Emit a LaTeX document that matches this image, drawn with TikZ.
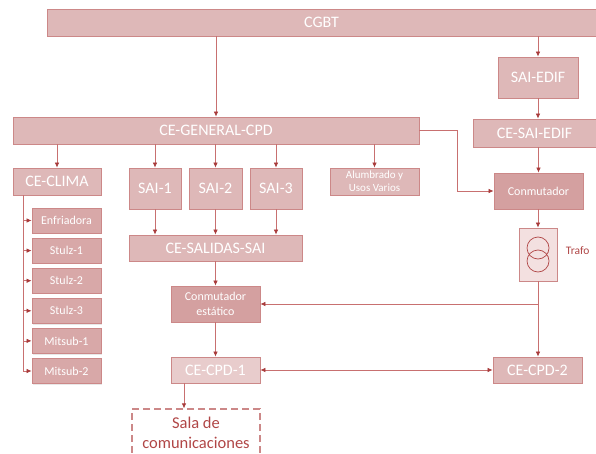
\documentclass[tikz,border=0pt]{standalone}
\usepackage{fontspec}
\setmainfont{Carlito}
\usetikzlibrary{arrows.meta,shadows}
\definecolor{boxred}{RGB}{222,184,184}
\definecolor{boxdark}{RGB}{212,160,160}
\definecolor{boxmid}{RGB}{216,168,168}
\definecolor{boxlight}{RGB}{232,204,204}
\definecolor{trafofill}{RGB}{243,224,224}
\definecolor{edgered}{RGB}{204,136,136}
\definecolor{wirered}{RGB}{200,112,112}
\definecolor{tipred}{RGB}{168,58,58}
\definecolor{salared}{RGB}{176,70,70}

\begin{document}
\begin{tikzpicture}[x=1pt, y=-1pt, font=\fontsize{16}{19}\selectfont,
  box/.style={draw=edgered, line width=0.8pt, fill=boxred, text=white, inner sep=1pt, align=center,
              drop shadow={shadow xshift=1.2pt, shadow yshift=-1.2pt, opacity=0.18}},
  wh/.style 2 args={minimum width=#1pt, minimum height=#2pt},
  dark/.style={fill=boxdark},
  small/.style={font=\fontsize{12}{15}\selectfont},
  wire/.style={draw=wirered, line width=0.7pt},
  arr/.style={wire, -{Latex[length=5pt,width=4.5pt,color=tipred]}},
  dbl/.style={wire, {Latex[length=5pt,width=4.5pt,color=tipred]}-{Latex[length=5pt,width=4.5pt,color=tipred]}}]
  \useasboundingbox (0,0) rectangle (596,454);

  % main boards
  \node[box, wh={549}{27}] (cgbt) at (321.5,22.5) {CGBT};
  \node[box, wh={406}{27}] (gen) at (216,130.5) {CE-GENERAL-CPD};

  % building UPS branch
  \node[box, wh={80}{41}] (saiedif) at (538,77.5) {SAI-EDIF};
  \node[box, wh={123}{28}] (cesaiedif) at (534.5,133) {CE-SAI-EDIF};
  \node[box, dark, small, wh={89}{36}] (conm) at (538.5,191) {Conmutador};
  \node[box, fill=trafofill, wh={38}{53}] (trafo) at (538,254.5) {};
  \draw[draw=salared, line width=0.7pt] (trafo.center) ++(0,-6.5) circle [radius=11pt]
        (trafo.center) ++(0,6.5) circle [radius=11pt];
  \node[text=salared, font=\fontsize{11.5}{14}\selectfont, anchor=west] (trafolbl)
        at ([xshift=5pt,yshift=4pt]trafo.east) {Trafo};

  % CPD side
  \node[box, wh={88}{27}] (clima) at (57,181.5) {CE-CLIMA};
  \foreach \i/\x/\w in {1/155/52,2/215.5/53,3/276/52}{
    \node[box, wh={\w}{41}] (sai\i) at (\x,188.5) {SAI-\i};
  }
  \node[box, font=\fontsize{11}{13}\selectfont, wh={89}{27}] (alum) at (374.5,181.5) {Alumbrado y\\Usos Varios};
  \node[box, wh={173}{26}] (salidas) at (215.5,248) {CE-SALIDAS-SAI};
  \node[box, dark, small, wh={89}{36}] (estat) at (215.5,304) {Conmutador\\estático};
  \node[box, fill=boxlight, wh={89}{26}] (cpd1) at (215.5,370) {CE-CPD-1};
  \node[box, wh={89}{26}] (cpd2) at (537.5,370) {CE-CPD-2};
  \node[draw=edgered, line width=1.2pt, dash pattern=on 7pt off 4pt, text=salared,
        font=\fontsize{16.5}{20}\selectfont, align=center, wh={128}{48}] (sala) at (196,433)
        {Sala de\\comunicaciones};

  % climate loads
  \foreach \i/\t in {1/Enfriadora,2/Stulz-1,3/Stulz-2,4/Stulz-3,5/Mitsub-1,6/Mitsub-2}{
    \node[box, fill=boxmid, small, wh={69}{25}] (cl\i) at (66.5,{190.4+30.1*\i}) {\t};
  }

  % connections
  \draw[arr] (cgbt.south -| gen.north) -- (gen.north);
  \draw[arr] (cgbt.south -| saiedif.north) -- (saiedif.north);
  \draw[arr] (saiedif.south) -- (saiedif.south |- cesaiedif.north);
  \draw[arr] (conm.north |- cesaiedif.south) -- (conm.north);
  \draw[arr] (conm.south -| trafo.north) -- (trafo.north);
  \draw[arr] (trafo.south) -- (trafo.south |- cpd2.north);
  \draw[arr] (trafo.south |- estat.east) -- (estat.east);
  \draw[arr] (gen.east) -- ++(38,0) |- (conm.west);
  \draw[arr] (gen.south -| clima.north) -- (clima.north);
  \draw[arr] (gen.south -| alum.north) -- (alum.north);
  \foreach \i in {1,2,3}{
    \draw[arr] (gen.south -| sai\i.north) -- (sai\i.north);
    \draw[arr] (sai\i.south) -- (sai\i.south |- salidas.north);
  }
  \draw[arr] (salidas.south) -- (estat.north);
  \draw[arr] (estat.south) -- (cpd1.north);
  \draw[dbl] (cpd1.east) -- (cpd2.west);
  \coordinate (bus) at ([xshift=-34pt]clima.south);
  \foreach \i in {1,...,6}{
    \draw[arr] (bus) |- (cl\i.west);
  }
  \coordinate (salain) at ([xshift=-31.5pt]cpd1.south);
  \draw[arr] (salain) -- (salain |- sala.north);
\end{tikzpicture}
\end{document}
